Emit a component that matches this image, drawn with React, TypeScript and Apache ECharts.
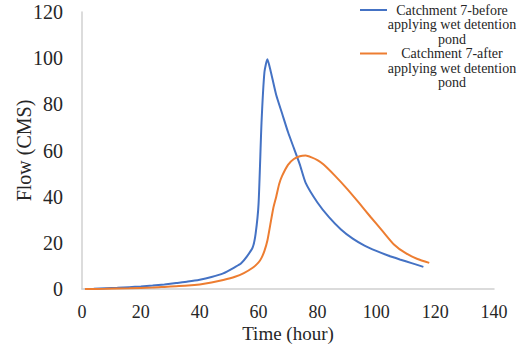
import React, { useEffect, useRef } from "react";
import * as echarts from "echarts";

const timeBefore = [1, 4, 8, 12, 16, 20, 24, 28, 32, 36, 40, 44, 48, 52, 54, 56, 58, 59, 60, 61, 62, 63, 64, 66, 68, 70, 72, 74, 76, 80, 84, 88, 92, 96, 100, 104, 108, 112, 116];
const flowBefore = [0, 0.1, 0.3, 0.5, 0.8, 1.1, 1.5, 2.0, 2.6, 3.2, 4.0, 5.2, 6.8, 9.5, 11, 14, 18, 24, 37, 72, 94, 99.5, 95, 84, 76, 68, 61, 54, 46, 37.5, 31, 25.8, 21.8, 18.8, 16.5, 14.5, 12.8, 11.2, 9.6];

const timeAfter = [1, 8, 16, 24, 28, 32, 36, 40, 44, 48, 52, 55, 58, 60, 61, 62, 63, 64, 65, 66, 67, 68, 70, 72, 74, 76, 78, 80, 82, 86, 90, 94, 98, 102, 106, 110, 114, 118];
const flowAfter = [0, 0.1, 0.3, 0.6, 0.9, 1.2, 1.5, 2.0, 2.8, 3.9, 5.3, 6.9, 9.2, 11.5, 13.5, 16.5, 21, 28, 35, 40, 45.5, 49, 53.8, 56.3, 57.5, 57.8, 57, 55.8, 54, 49, 43.5, 37.5, 31.3, 25.3, 19.3, 15.5, 13, 11.3];

const seriesNames = [
  "Catchment 7-before\napplying wet detention\npond",
  "Catchment 7-after\napplying wet detention\npond",
];
const xTicks = { min: 0, max: 140, interval: 20 };
const yTicks = { min: 0, max: 120, interval: 20 };

const FONT = "'Liberation Serif', 'Times New Roman', serif";
const BLUE = "#4472C4";
const ORANGE = "#ED7D31";

export default function App() {
  const ref = useRef<HTMLDivElement>(null);
  useEffect(() => {
    if (!ref.current) return;
    const chart = echarts.init(ref.current, null, { renderer: "svg" });
    const pairs = (t: number[], f: number[]) => t.map((x, i) => [x, f[i]]);
    chart.setOption({
      animation: false,
      grid: { left: 82, right: 27, top: 12, bottom: 57, containLabel: false, outerBoundsMode: "none" },
      xAxis: {
        type: "value",
        ...xTicks,
        name: "Time (hour)",
        nameLocation: "middle",
        nameGap: 36,
        nameMoveOverlap: false,
        nameTextStyle: { fontFamily: FONT, fontSize: 19, lineHeight: 16, color: "#262626", verticalAlign: "top" },
        axisLine: { show: true, lineStyle: { color: "#d0d0d0", width: 1.5 } },
        axisTick: { show: false },
        splitLine: { show: false },
        axisLabel: { fontFamily: FONT, fontSize: 18, lineHeight: 16, color: "#262626", margin: 15 },
      },
      yAxis: {
        type: "value",
        ...yTicks,
        name: "Flow (CMS)",
        nameLocation: "middle",
        nameGap: 48,
        nameMoveOverlap: false,
        nameTextStyle: { fontFamily: FONT, fontSize: 20, color: "#262626" },
        axisLine: { show: true, lineStyle: { color: "#d0d0d0", width: 1.5 } },
        axisTick: { show: false },
        splitLine: { show: false },
        axisLabel: { fontFamily: FONT, fontSize: 20, color: "#262626", margin: 19 },
      },
      graphic: [
        { type: "line", shape: { x1: 360, y1: 10, x2: 387, y2: 10 }, style: { stroke: BLUE, lineWidth: 2 } },
        {
          type: "text", x: 452, y: 3,
          style: { text: seriesNames[0], fontFamily: FONT, fontSize: 14, lineHeight: 14.5, fill: "#262626", align: "center", verticalAlign: "top" },
        },
        { type: "line", shape: { x1: 360, y1: 53.5, x2: 387, y2: 53.5 }, style: { stroke: ORANGE, lineWidth: 2 } },
        {
          type: "text", x: 452, y: 46.5,
          style: { text: seriesNames[1], fontFamily: FONT, fontSize: 14, lineHeight: 14.5, fill: "#262626", align: "center", verticalAlign: "top" },
        },
      ],
      series: [
        {
          name: seriesNames[0],
          type: "line",
          data: pairs(timeBefore, flowBefore),
          showSymbol: false,
          smooth: 0.2,
          lineStyle: { color: BLUE, width: 2 },
          itemStyle: { color: BLUE },
        },
        {
          name: seriesNames[1],
          type: "line",
          data: pairs(timeAfter, flowAfter),
          showSymbol: false,
          smooth: 0.2,
          lineStyle: { color: ORANGE, width: 2 },
          itemStyle: { color: ORANGE },
        },
      ],
    });
    return () => chart.dispose();
  }, []);
  return <div ref={ref} style={{ position: "fixed", left: 0, top: 0, width: 521, height: 346, background: "#fff" }} />;
}
